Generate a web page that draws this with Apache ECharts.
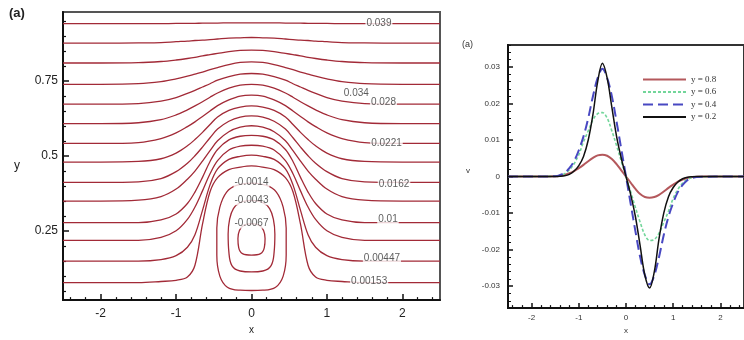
<!DOCTYPE html>
<html>
<head>
<meta charset="utf-8">
<script src="https://cdn.jsdelivr.net/npm/echarts@6/dist/echarts.min.js"></script>
<style>
  html, body { margin: 0; padding: 0; background: #fff; }
  #chart { width: 744px; height: 340px; }
</style>
</head>
<body>
<div id="chart"></div>
<script>
// left panel: streamlines psi = const
const streamX = [-2.5, -2, -1.5, -1.2, -1, -0.85, -0.75, -0.65, -0.55, -0.45, -0.3, -0.15, 0,
  0.15, 0.3, 0.45, 0.55, 0.65, 0.75, 0.85, 1, 1.2, 1.5, 2, 2.5];

const stream1 = [.941,.941,.941,.941,.942,.942,.942,.943,.943,.943,.944,.944,.944,.944,.944,.943,.943,.943,.942,.942,.942,.941,.941,.941,.941];
const stream2 = [.876,.876,.877,.878,.881,.883,.885,.886,.888,.890,.893,.894,.895,.894,.893,.890,.888,.886,.885,.883,.881,.878,.877,.876,.876];
const stream3 = [.810,.810,.811,.815,.820,.825,.829,.834,.838,.842,.848,.852,.853,.852,.848,.842,.838,.834,.829,.825,.820,.815,.811,.810,.810];
const stream4 = [.739,.739,.741,.748,.757,.766,.773,.780,.788,.795,.805,.812,.814,.812,.805,.795,.788,.780,.773,.766,.757,.748,.741,.739,.739];
const stream5 = [.673,.673,.675,.683,.695,.709,.719,.730,.741,.753,.765,.773,.775,.773,.765,.753,.741,.730,.719,.709,.695,.683,.675,.673,.673];
const stream6 = [.608,.608,.611,.621,.637,.654,.667,.681,.696,.710,.726,.736,.739,.736,.726,.710,.696,.681,.667,.654,.637,.621,.611,.608,.608];
const stream7 = [.542,.542,.545,.558,.577,.598,.614,.632,.650,.668,.687,.700,.703,.700,.687,.668,.650,.632,.614,.598,.577,.558,.545,.542,.542];
const stream8 = [.480,.480,.482,.491,.510,.534,.555,.579,.605,.630,.652,.663,.667,.663,.652,.630,.605,.579,.555,.534,.510,.491,.482,.480,.480];
const stream9 = [.412,.412,.414,.425,.448,.476,.501,.530,.561,.590,.616,.630,.634,.630,.616,.590,.561,.530,.501,.476,.448,.425,.414,.412,.412];
const stream10 = [.350,.350,.353,.365,.390,.423,.450,.483,.518,.551,.581,.596,.601,.596,.581,.551,.518,.483,.450,.423,.390,.365,.353,.350,.350];
const stream11 = [.278,.278,.278,.287,.307,.342,.380,.429,.482,.522,.554,.566,.569,.566,.554,.522,.482,.429,.380,.342,.307,.287,.278,.278,.278];
const stream12 = [.219,.219,.219,.229,.251,.289,.330,.384,.441,.485,.520,.533,.536,.533,.520,.485,.441,.384,.330,.289,.251,.229,.219,.219,.219];
const stream13 = [.150,.150,.150,.155,.168,.196,.238,.319,.404,.457,.489,.499,.503,.499,.489,.457,.404,.319,.238,.196,.168,.155,.150,.150,.150];
const stream14 = [.078,.078,.078,.082,.086,.097,.136,.273,.381,.428,.455,.463,.467,.463,.455,.428,.381,.273,.136,.097,.086,.082,.078,.078,.078];

// closed vortex loops [x, y]
const loop0067 = [[0,.275],[.1,.27],[.16,.252],[.18,.225],[.17,.195],[.12,.175],[0,.17],[-.12,.175],[-.17,.195],[-.18,.225],[-.16,.252],[-.1,.27],[0,.275]];
const loop0043 = [[0,.352],[.15,.345],[.24,.325],[.29,.29],[.31,.24],[.3,.18],[.26,.135],[.15,.117],[0,.114],[-.15,.117],[-.26,.135],[-.3,.18],[-.31,.24],[-.29,.29],[-.24,.325],[-.15,.345],[0,.352]];
const loop0014 = [[0,.41],[.2,.402],[.33,.38],[.42,.33],[.46,.26],[.46,.17],[.42,.1],[.32,.063],[.15,.053],[0,.052],[-.15,.053],[-.32,.063],[-.42,.1],[-.46,.17],[-.46,.26],[-.42,.33],[-.33,.38],[-.2,.402],[0,.41]];

// contour labels
const labelText = ['0.039', '0.034', '0.028', '0.0221', '0.0162', '0.01', '0.00447', '0.00153', '-0.0014', '-0.0043', '-0.0067'];
const labelX = [1.69, 1.39, 1.75, 1.79, 1.89, 1.81, 1.73, 1.56, 0, 0, 0];
const labelY = [0.941, 0.709, 0.680, 0.542, 0.405, 0.288, 0.160, 0.082, 0.413, 0.353, 0.275];

// right panel: v along x at several heights
const vx = [-2.5,-2,-1.75,-1.5,-1.4,-1.3,-1.2,-1.1,-1,-0.9,-0.8,-0.7,-0.6,-0.5,-0.4,-0.3,-0.2,-0.1,0,
  0.1,0.2,0.3,0.4,0.5,0.6,0.7,0.8,0.9,1,1.1,1.2,1.3,1.4,1.5,1.75,2,2.5];
const v08 = [0,0,0.00002,0.00005,0.0002,0.0005,0.0009,0.0015,0.0023,0.0032,0.0042,0.0051,0.0058,0.006,0.0057,0.0048,0.0034,0.0017,0,
  -0.0017,-0.0034,-0.0048,-0.0056,-0.0058,-0.0056,-0.005,-0.0041,-0.0031,-0.0022,-0.0014,-0.0008,-0.0004,-0.00015,-0.00005,0,0,0];
const v06 = [0,0,0.00003,0.0001,0.0003,0.0008,0.0018,0.0035,0.006,0.0095,0.0125,0.0155,0.0172,0.0175,0.016,0.0125,0.0085,0.0042,0,
  -0.0042,-0.0085,-0.0125,-0.016,-0.0175,-0.0172,-0.0155,-0.0125,-0.0095,-0.006,-0.0035,-0.0018,-0.0008,-0.0003,-0.0001,-0.00003,0,0];
const v04 = [0,0,0.00003,0.0001,0.0004,0.001,0.0023,0.0042,0.0072,0.011,0.016,0.022,0.027,0.0295,0.027,0.022,0.015,0.0075,0,
  -0.0075,-0.015,-0.022,-0.027,-0.0295,-0.027,-0.022,-0.016,-0.011,-0.0072,-0.0042,-0.0023,-0.001,-0.0004,-0.0001,-0.00003,0,0];
const v02 = [0,0,0,0,0.00005,0.0002,0.0006,0.0015,0.003,0.0055,0.01,0.017,0.026,0.031,0.027,0.019,0.011,0.005,0,
  -0.005,-0.011,-0.019,-0.027,-0.0305,-0.026,-0.017,-0.01,-0.0055,-0.003,-0.0015,-0.0006,-0.0002,-0.00005,0,0,0,0];

// tick labels
const leftXTicks = [-2, -1, 0, 1, 2];
const leftYTicks = [0.25, 0.5, 0.75];
const rightXTicks = [-2, -1, 0, 1, 2];
const rightYTicks = [-0.03, -0.02, -0.01, 0, 0.01, 0.02, 0.03];

function minorValues(min, max, step, major) {
  const out = [];
  for (let v = Math.ceil(min / step - 1e-9) * step; v <= max + 1e-9; v += step) {
    const r = +v.toFixed(5);
    if (!major.some(m => Math.abs(m - r) < 1e-9)) out.push(r);
  }
  return out;
}

const streams = [stream1, stream2, stream3, stream4, stream5, stream6, stream7,
  stream8, stream9, stream10, stream11, stream12, stream13, stream14];
const loops = [loop0067, loop0043, loop0014];
const streamColor = '#a22a37';
const sans = 'Liberation Sans';

const chart = echarts.init(document.getElementById('chart'), null, { renderer: 'canvas' });

function majorAxis(extra) {
  return Object.assign({
    type: 'value',
    axisLine: { show: true, onZero: false, lineStyle: { color: '#111', width: 2 } },
    splitLine: { show: false },
  }, extra);
}
function minorAxis(extra) {
  return Object.assign({
    type: 'value',
    axisLine: { show: false, onZero: false },
    axisLabel: { show: false },
    splitLine: { show: false },
  }, extra);
}

const series = [];
streams.forEach(s => {
  series.push({
    type: 'line', xAxisIndex: 0, yAxisIndex: 0,
    data: streamX.map((x, i) => [x, s[i]]),
    smooth: 0.35, showSymbol: false, symbol: 'none',
    lineStyle: { color: streamColor, width: 1.3 }, silent: true,
  });
});
loops.forEach(l => {
  series.push({
    type: 'line', xAxisIndex: 0, yAxisIndex: 0,
    data: l, smooth: 0.4, showSymbol: false, symbol: 'none',
    lineStyle: { color: streamColor, width: 1.3 }, silent: true,
  });
});
series.push({
  type: 'scatter', xAxisIndex: 0, yAxisIndex: 0, z: 5,
  symbolSize: 1, itemStyle: { color: 'rgba(0,0,0,0)' },
  data: labelText.map((t, i) => [labelX[i], labelY[i], t]),
  label: {
    show: true, position: 'inside', formatter: p => p.data[2],
    fontFamily: sans, fontSize: 10, color: '#333',
    backgroundColor: '#fff', padding: [0, 1],
  },
});

const rightSeries = [
  { name: 'y = 0.8', data: v08, color: '#b4585c', width: 2, type: 'solid' },
  { name: 'y = 0.6', data: v06, color: '#72d69a', width: 1.6, type: [3, 2] },
  { name: 'y = 0.4', data: v04, color: '#4848c2', width: 2, type: [10, 5] },
  { name: 'y = 0.2', data: v02, color: '#111111', width: 1.5, type: 'solid' },
];
rightSeries.forEach(r => {
  series.push({
    type: 'line', name: r.name, xAxisIndex: 2, yAxisIndex: 2,
    data: vx.map((x, i) => [x, r.data[i]]),
    smooth: 0.35, showSymbol: false, symbol: 'none',
    color: r.color,
    lineStyle: { color: r.color, width: r.width, type: r.type },
  });
});

const option = {
  backgroundColor: '#fff',
  animation: false,
  textStyle: { fontFamily: sans },
  grid: [
    { left: 63, top: 12, width: 377, height: 294, show: true, borderColor: '#555', borderWidth: 2 },
    { left: 508, top: 45, width: 250, height: 271, show: true, borderColor: '#333', borderWidth: 2 },
  ],
  xAxis: [
    majorAxis({
      gridIndex: 0, min: -2.5, max: 2.5, position: 'bottom',
      name: 'x', nameLocation: 'middle', nameGap: 22,
      nameTextStyle: { fontSize: 10, color: '#222', fontFamily: sans },
      axisTick: { show: true, inside: true, length: 6, customValues: leftXTicks, lineStyle: { color: '#111', width: 1.5 } },
      axisLabel: { customValues: leftXTicks, fontSize: 12, color: '#222', margin: 8, fontFamily: sans },
    }),
    minorAxis({
      gridIndex: 0, min: -2.5, max: 2.5, position: 'bottom',
      axisTick: { show: true, inside: true, length: 3, customValues: minorValues(-2.5, 2.5, 0.2, leftXTicks), lineStyle: { color: '#111', width: 1.2 } },
    }),
    majorAxis({
      gridIndex: 1, min: -2.5, max: 2.5, position: 'bottom',
      name: 'x', nameLocation: 'middle', nameGap: 18,
      nameTextStyle: { fontSize: 8, color: '#333', fontFamily: sans },
      axisTick: { show: true, inside: true, length: 5, customValues: rightXTicks, lineStyle: { color: '#111', width: 1.5 } },
      axisLabel: { customValues: rightXTicks, fontSize: 8, color: '#333', margin: 6, fontFamily: sans },
    }),
    minorAxis({
      gridIndex: 1, min: -2.5, max: 2.5, position: 'bottom',
      axisTick: { show: true, inside: true, length: 3, customValues: minorValues(-2.5, 2.5, 0.2, rightXTicks), lineStyle: { color: '#111', width: 1.2 } },
    }),
  ],
  yAxis: [
    majorAxis({
      gridIndex: 0, min: 0.02, max: 0.98, position: 'left',
      axisTick: { show: true, inside: true, length: 6, customValues: leftYTicks, lineStyle: { color: '#111', width: 1.5 } },
      axisLabel: { customValues: leftYTicks, fontSize: 12, color: '#222', margin: 5, fontFamily: sans },
    }),
    minorAxis({
      gridIndex: 0, min: 0.02, max: 0.98, position: 'left',
      axisTick: { show: true, inside: true, length: 3, customValues: minorValues(0.02, 0.98, 0.05, leftYTicks), lineStyle: { color: '#111', width: 1.2 } },
    }),
    majorAxis({
      gridIndex: 1, min: -0.036, max: 0.036, position: 'left',
      axisTick: { show: true, inside: true, length: 5, customValues: rightYTicks, lineStyle: { color: '#111', width: 1.5 } },
      axisLabel: { customValues: rightYTicks, fontSize: 8, color: '#333', margin: 8, fontFamily: sans },
    }),
    minorAxis({
      gridIndex: 1, min: -0.036, max: 0.036, position: 'left',
      axisTick: { show: true, inside: true, length: 3, customValues: minorValues(-0.036, 0.036, 0.002, rightYTicks), lineStyle: { color: '#111', width: 1 } },
    }),
  ],
  legend: {
    orient: 'vertical', left: 637, top: 70,
    itemWidth: 43, itemHeight: 10, itemGap: 3.5,
    itemStyle: { opacity: 0 },
    data: rightSeries.map(r => r.name),
    textStyle: { fontFamily: 'Liberation Serif', fontSize: 9, color: '#333' },
  },
  graphic: [
    { type: 'text', left: 9, top: 7, style: { text: '(a)', font: 'bold 13px "Liberation Sans"', fill: '#222' } },
    { type: 'text', left: 462, top: 40, style: { text: '(a)', font: '9px "Liberation Sans"', fill: '#333' } },
    { type: 'text', left: 14, top: 160, style: { text: 'y', font: '12px "Liberation Sans"', fill: '#222' } },
    { type: 'text', left: 466, top: 167, style: { text: 'v', font: '8px "Liberation Sans"', fill: '#333' } },
  ],
  series: series,
};

chart.setOption(option);
</script>
</body>
</html>
